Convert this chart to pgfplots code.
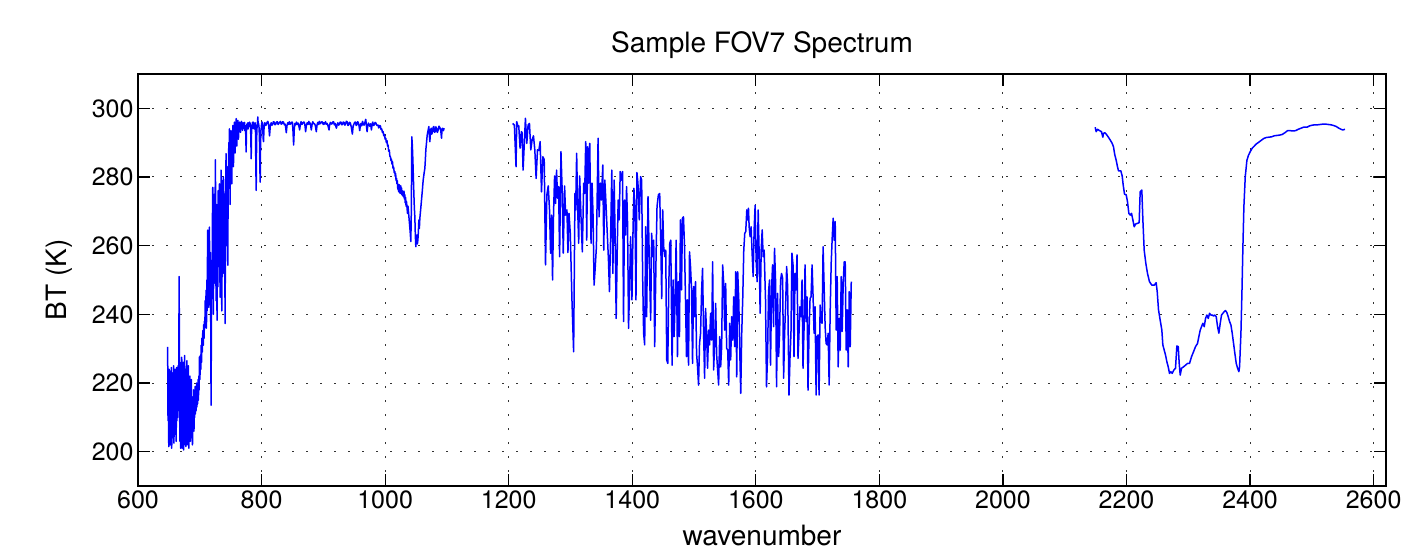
\documentclass[border=0pt]{standalone}
\usepackage{fontspec}
\setmainfont{TeX Gyre Heros}
\usepackage{pgfplots}
\pgfplotsset{compat=1.18}
\begin{document}
\begin{tikzpicture}
\useasboundingbox (-138pt,-68pt) rectangle (1264pt,486pt);
\begin{axis}[
  at={(0pt,0pt)}, anchor=south west,
  scale only axis, width=1248pt, height=412pt,
  xmin=600, xmax=2620, ymin=190, ymax=310,
  xtick={600,800,...,2600}, ytick={200,220,...,300},
  tick align=inside, major tick length=12pt,
  grid=major,
  major grid style={black!80, line width=1pt, dash pattern=on 2.4pt off 11.6pt},
  axis line style={black, line width=1.5pt},
  major tick style={black, line width=1.2pt},
  /pgf/number format/assume math mode=true,
  /pgf/number format/1000 sep={},
  tick label style={font=\fontsize{25}{30}\selectfont},
  xticklabel style={yshift=-1pt},
  yticklabel style={xshift=-1pt},
  title={Sample FOV7 Spectrum},
  xlabel={wavenumber},
  ylabel={BT (K)},
  every axis title/.style={at={(axis description cs:0.5,1)}, anchor=base, yshift=21pt, font=\fontsize{28}{33}\selectfont},
  every axis x label/.style={at={(axis description cs:0.5,0)}, anchor=base, yshift=-59pt, font=\fontsize{28}{33}\selectfont},
  every axis y label/.style={at={(axis description cs:-0.0569,0.5)}, anchor=base, rotate=90, font=\fontsize{28}{33}\selectfont},
]
% LW band
\addplot[blue, line width=1.5pt, line join=round] table {
x y
648.0 230.5
648.6 209.0
649.2 222.0
649.8 201.5
650.4 224.0
651.0 203.0
651.6 219.0
652.2 202.0
652.8 223.5
653.4 206.0
654.0 224.5
654.6 201.0
655.2 220.0
655.8 204.0
656.4 223.0
657.0 209.0
657.6 225.0
658.2 202.5
658.8 218.0
659.4 205.0
660.0 224.0
660.6 211.0
661.2 222.0
661.8 203.0
662.4 224.5
663.0 209.0
663.6 219.0
664.2 210.0
664.8 225.0
665.4 212.0
666.0 224.0
666.6 251.0
667.2 218.0
667.8 203.0
668.4 222.0
669.0 201.0
669.6 226.0
670.2 205.0
670.8 227.5
671.4 201.0
672.0 221.0
672.6 204.5
673.2 226.0
673.8 200.5
674.4 223.0
675.0 206.0
675.6 228.0
676.2 202.0
676.8 219.0
677.4 201.5
678.0 224.0
678.6 205.0
679.2 226.5
679.8 202.0
680.4 221.0
681.0 207.0
681.6 225.0
682.2 201.0
682.8 217.0
683.4 205.0
684.0 222.0
684.6 203.0
685.2 219.0
685.8 208.0
686.4 221.0
687.0 204.0
687.6 216.0
688.2 202.0
688.8 214.0
689.4 209.0
690.0 218.0
690.6 206.0
691.2 215.0
691.8 210.0
692.4 219.0
693.0 211.0
693.6 216.0
694.2 212.0
694.8 220.0
695.4 213.0
696.0 217.0
696.6 214.0
697.2 221.0
697.8 215.0
698.4 222.0
699.0 218.0
699.4 227.6
700.2 221.0
701.0 228.0
701.6 224.0
702.2 231.0
702.8 226.0
703.4 233.0
704.0 229.0
704.6 234.0
705.2 235.3
705.8 231.0
706.4 237.0
707.0 233.0
707.5 238.0
708.2 236.0
708.8 244.0
709.4 237.5
710.2 247.0
710.8 236.0
711.4 250.0
711.8 241.0
712.4 255.0
712.9 264.5
713.5 243.0
714.0 258.0
714.5 242.0
715.0 262.0
715.6 265.4
716.2 247.0
716.7 245.0
717.3 258.0
718.3 213.5
719.0 248.0
720.0 247.0
720.5 268.0
721.0 277.0
721.5 251.0
722.0 240.0
722.6 262.0
723.2 249.0
723.7 275.0
724.3 252.0
724.8 270.0
725.3 285.0
725.9 258.0
726.4 244.0
727.0 272.0
727.5 249.0
728.0 238.3
728.6 263.0
729.2 248.0
729.7 276.0
730.2 259.0
730.7 254.0
731.3 271.0
731.8 278.0
732.4 257.0
732.9 245.0
733.5 268.0
734.0 255.0
734.5 282.0
735.1 262.0
735.6 241.0
736.2 266.0
736.7 251.0
737.2 279.0
737.8 264.0
738.3 280.0
738.9 252.0
739.4 270.0
739.9 275.0
740.5 258.0
741.0 237.3
741.6 269.0
742.1 281.0
742.6 286.8
743.2 270.0
743.7 260.0
744.2 283.0
744.8 272.0
745.3 254.3
745.9 276.0
746.4 281.0
747.0 290.0
747.5 279.0
748.0 294.0
748.6 284.0
749.1 272.0
749.6 287.0
750.2 291.0
750.7 293.5
751.3 285.0
751.8 278.0
752.4 290.0
752.9 286.0
753.5 295.0
754.0 289.0
754.5 283.0
755.1 292.0
755.6 294.0
756.2 296.0
756.7 290.0
757.2 287.0
757.8 294.5
758.3 292.0
758.9 297.0
759.4 293.0
760.0 289.0
760.5 295.0
761.1 293.5
761.6 296.5
762.1 294.0
762.6 291.0
763.2 295.2
763.7 293.8
764.3 296.0
764.8 294.5
765.4 295.5
765.9 293.0
766.5 295.0
767.0 294.0
767.5 296.2
768.1 294.8
768.6 295.6
769.2 293.6
769.7 294.0
770.2 295.8
770.8 294.4
771.3 295.6
771.9 294.9
772.4 295.9
772.9 293.5
773.5 295.0
774.0 294.2
774.5 292.0
775.0 287.3
775.6 293.5
776.1 295.2
776.7 295.5
777.2 294.3
777.7 295.8
778.3 294.0
778.8 295.6
779.4 294.6
779.9 295.1
780.5 296.0
781.0 294.8
781.5 295.7
782.1 294.5
782.6 292.0
783.2 285.3
783.7 292.5
784.3 294.6
784.8 295.0
785.3 295.9
785.9 294.2
786.4 296.0
787.0 295.1
787.5 295.7
788.0 294.0
788.6 295.3
789.1 294.7
789.7 295.8
790.2 293.0
790.7 284.0
791.3 276.1
791.8 287.0
792.3 293.4
792.9 295.0
793.4 295.9
794.0 297.5
794.5 294.8
795.1 295.6
795.6 295.0
796.1 294.0
796.7 290.0
797.2 283.0
797.8 278.5
798.3 288.0
798.9 293.5
799.4 294.0
800.0 295.3
800.5 295.8
801.0 296.0
801.6 294.9
802.2 293.0
802.7 291.0
803.2 290.3
803.8 293.5
804.3 295.1
804.9 295.7
805.4 295.8
806.5 295.0
807.5 295.2
808.8 295.9
810.2 296.2
811.5 295.3
812.9 292.0
814.2 295.0
815.6 295.8
816.8 295.1
818.0 295.3
819.2 296.1
820.5 296.0
821.8 295.2
823.0 295.4
824.2 296.0
825.5 296.1
826.8 295.3
828.0 295.6
829.2 295.9
830.5 296.2
831.8 295.4
833.0 295.5
834.2 296.1
835.5 296.0
836.8 295.2
838.0 295.4
839.0 294.6
840.0 292.9
841.2 295.0
842.5 295.8
843.8 295.3
845.0 296.1
846.2 295.4
847.5 295.5
848.8 296.0
850.0 295.9
851.0 293.0
851.9 289.3
853.0 294.2
854.0 295.6
855.2 295.2
856.5 296.0
857.8 295.3
859.0 295.7
860.3 295.0
861.6 293.7
862.8 295.4
864.0 296.1
865.2 295.3
866.5 295.6
867.8 296.0
869.0 296.0
870.2 295.1
871.3 293.2
872.6 295.2
874.0 295.8
875.2 295.3
876.5 296.2
877.8 295.4
879.0 295.7
880.5 293.7
881.8 295.3
883.0 296.1
884.2 295.5
885.5 295.6
887.0 295.0
888.6 293.2
889.8 295.2
891.0 295.9
892.2 295.3
893.5 296.2
894.8 295.5
896.0 295.7
897.2 296.1
898.5 296.0
899.8 295.3
901.0 295.8
902.2 295.4
903.5 296.1
904.8 295.4
906.0 295.6
907.6 294.9
909.2 293.7
910.3 295.3
911.5 295.9
912.8 295.4
914.0 295.5
915.2 296.0
916.5 296.1
917.8 295.2
919.0 295.6
920.0 295.0
921.1 294.2
922.3 295.2
923.5 295.8
924.8 295.1
926.0 295.4
927.2 296.0
928.5 296.0
929.8 295.2
931.0 295.3
932.2 296.0
933.5 295.9
934.8 295.1
936.0 295.5
937.2 296.2
938.5 296.1
939.8 295.0
941.0 295.2
942.2 295.9
943.5 295.8
945.2 294.6
947.0 292.5
948.2 294.8
949.5 295.4
950.8 295.9
952.0 296.0
953.2 295.0
954.5 295.3
955.5 296.1
956.5 295.9
957.7 295.0
958.9 293.5
960.0 295.2
961.0 295.6
962.2 294.9
963.5 296.2
964.8 295.3
966.0 295.1
967.3 295.9
968.6 296.8
969.7 295.0
970.8 293.2
972.0 295.1
973.0 295.7
974.2 295.0
975.5 294.8
976.6 295.5
977.8 293.7
979.0 295.4
980.0 296.0
981.2 295.0
982.5 295.2
983.8 295.9
985.0 295.7
986.8 295.0
988.6 295.1
989.6 294.3
990.5 294.6
991.5 295.0
992.4 294.8
993.4 293.8
994.5 294.0
995.6 293.0
996.7 293.2
997.8 292.0
999.0 292.4
1000.0 291.0
1001.0 291.3
1002.0 290.0
1003.0 290.6
1004.0 289.0
1004.8 289.3
1005.8 287.5
1006.8 287.8
1007.7 286.0
1008.6 285.9
1009.4 284.8
1010.2 285.2
1011.0 283.8
1011.9 284.5
1012.8 282.5
1013.8 282.9
1014.8 281.2
1015.7 281.6
1016.4 280.2
1017.0 281.0
1017.7 279.0
1018.4 279.6
1019.1 278.0
1019.8 278.9
1020.5 276.5
1021.1 277.2
1021.8 275.8
1022.5 277.8
1023.2 275.5
1023.8 276.7
1024.5 275.2
1025.2 277.5
1025.9 275.8
1026.5 276.8
1027.2 274.8
1027.8 276.0
1028.5 274.5
1029.2 275.7
1029.8 274.2
1030.5 275.9
1031.2 273.6
1031.9 274.8
1032.5 272.5
1033.2 274.0
1033.9 271.5
1034.6 272.8
1035.4 271.2
1036.2 269.4
1037.0 271.5
1037.8 270.0
1038.6 268.2
1039.4 266.5
1040.5 264.2
1041.6 261.2
1042.4 270.0
1043.2 291.7
1044.1 289.0
1044.9 285.0
1045.7 280.0
1046.5 275.2
1047.3 271.0
1048.1 268.4
1048.9 263.0
1049.7 259.7
1050.5 262.0
1051.3 263.1
1052.2 260.5
1053.0 261.6
1053.8 264.0
1054.6 267.5
1055.4 265.0
1056.2 268.0
1057.5 270.5
1058.9 273.3
1060.2 276.0
1061.6 279.1
1063.0 281.0
1064.3 282.5
1065.1 285.0
1065.9 287.9
1067.0 290.0
1068.1 292.2
1069.5 293.5
1070.8 294.7
1071.6 292.0
1072.4 290.3
1073.5 293.5
1074.6 294.2
1075.6 292.5
1076.7 293.2
1077.8 294.5
1078.9 294.7
1080.0 293.0
1081.1 293.2
1082.2 294.6
1083.2 294.2
1084.5 293.0
1085.9 293.7
1087.2 294.8
1088.6 294.4
1090.0 293.6
1091.3 291.3
1092.1 294.0
1092.9 294.2
1094.2 293.5
1095.6 294.2
};
% MW band
\addplot[blue, line width=1.5pt, line join=round] table {
x y
1206.5 295.6
1209.2 295.1
1211.9 283.0
1213.0 296.1
1215.2 294.7
1216.3 294.9
1218.4 288.4
1220.6 293.2
1221.7 292.9
1223.3 282.0
1227.1 297.1
1229.3 289.8
1231.4 295.1
1233.6 295.6
1235.8 287.9
1237.9 290.8
1240.1 292.0
1242.3 287.9
1244.4 279.6
1246.6 287.9
1248.8 287.7
1250.9 290.3
1253.1 275.7
1255.3 285.9
1257.5 285.1
1259.6 254.4
1261.8 274.8
1264.0 277.4
1266.1 270.4
1267.8 257.8
1269.4 268.9
1271.0 250.0
1272.6 269.4
1274.3 280.3
1275.9 272.3
1277.5 282.0
1279.1 273.8
1280.8 277.2
1282.4 256.8
1284.6 287.4
1286.7 275.2
1288.3 257.8
1290.5 277.4
1292.1 268.9
1294.3 270.4
1295.9 258.0
1297.6 269.4
1299.7 263.6
1302.4 244.2
1305.1 229.1
1307.3 275.2
1308.4 270.4
1310.0 286.9
1311.7 270.4
1313.3 260.7
1314.9 280.3
1317.1 268.0
1319.2 258.2
1321.4 278.2
1323.0 275.2
1324.7 290.3
1326.3 261.6
1327.9 288.8
1329.5 278.2
1331.2 289.8
1333.3 260.7
1335.0 278.2
1336.6 268.4
1338.2 248.5
1339.8 252.9
1342.0 259.7
1344.7 291.3
1346.3 268.4
1348.5 278.2
1350.1 273.3
1352.3 283.5
1353.9 258.7
1355.6 279.1
1357.2 273.3
1359.3 264.6
1361.5 255.8
1363.1 246.6
1365.3 265.5
1366.9 282.0
1368.6 251.9
1370.7 279.1
1372.4 261.6
1374.0 238.8
1375.6 257.8
1377.2 273.3
1378.9 267.5
1380.5 281.6
1382.7 279.1
1384.3 281.6
1385.9 237.9
1387.5 273.3
1389.2 263.1
1390.8 277.2
1392.4 266.5
1394.0 235.9
1395.7 248.1
1397.3 262.6
1399.5 244.2
1401.1 262.6
1402.7 276.7
1404.3 270.9
1406.0 244.2
1407.6 281.3
1409.2 278.2
1411.4 267.5
1413.5 280.1
1415.2 279.1
1416.8 251.5
1418.4 234.5
1420.1 231.1
1421.7 265.5
1423.3 239.3
1425.5 274.3
1427.6 255.8
1429.8 238.3
1431.4 263.6
1433.1 256.8
1434.7 261.6
1436.3 230.6
1438.5 256.3
1440.1 271.4
1442.3 274.8
1444.4 275.2
1446.1 261.6
1447.7 244.6
1449.3 270.4
1450.9 259.7
1452.6 256.8
1454.2 258.7
1455.8 226.7
1457.5 225.7
1459.1 248.1
1460.7 260.7
1462.3 261.6
1464.5 225.2
1466.1 250.0
1467.7 233.5
1469.4 243.7
1471.0 261.6
1473.2 227.7
1474.8 249.5
1476.4 233.5
1478.0 267.5
1479.7 247.1
1481.3 268.0
1482.9 268.4
1484.6 259.7
1486.2 244.2
1487.8 227.7
1489.4 244.2
1491.1 225.2
1492.7 258.2
1494.3 253.9
1495.9 247.6
1497.6 225.7
1499.2 248.1
1500.8 239.3
1502.4 249.5
1504.1 228.6
1505.7 224.7
1507.3 219.4
1508.9 231.5
1510.6 234.5
1512.2 246.6
1513.8 253.4
1515.4 235.4
1517.1 221.4
1518.7 241.7
1520.3 234.5
1521.9 224.3
1523.6 235.4
1525.2 231.1
1526.8 240.3
1528.5 232.5
1530.1 255.3
1531.7 223.8
1533.3 231.1
1535.0 243.2
1536.6 228.2
1538.2 223.8
1539.8 219.4
1541.5 233.5
1543.1 224.7
1544.7 230.6
1546.3 254.4
1548.0 249.0
1549.6 235.4
1551.2 249.0
1552.8 230.1
1554.5 229.6
1556.1 219.4
1557.7 237.4
1559.3 226.7
1561.0 239.3
1562.6 232.5
1564.2 245.1
1565.8 230.6
1567.5 252.4
1569.1 221.8
1570.7 252.4
1572.4 244.2
1574.0 229.6
1575.6 217.0
1577.2 234.5
1578.9 245.1
1580.5 258.7
1582.1 263.6
1583.7 264.1
1585.4 270.4
1587.0 267.5
1588.1 270.9
1589.2 265.5
1590.8 262.6
1592.4 265.5
1594.0 257.8
1595.7 251.0
1597.3 264.8
1598.9 271.8
1600.5 255.8
1602.2 249.5
1603.8 270.4
1605.4 257.8
1607.0 240.3
1608.7 258.7
1610.3 264.6
1611.9 256.8
1613.5 258.7
1615.7 244.2
1617.3 218.9
1619.0 227.7
1620.6 246.6
1622.2 250.0
1623.8 225.2
1625.5 247.1
1627.1 254.4
1628.7 236.4
1630.3 259.2
1632.0 249.5
1633.6 218.9
1635.2 246.1
1636.9 227.7
1638.5 234.5
1640.1 250.0
1641.7 251.9
1643.4 250.5
1645.0 221.4
1646.6 234.5
1648.2 242.2
1649.9 253.9
1651.5 248.1
1653.7 216.5
1655.3 227.2
1656.9 234.5
1658.5 257.8
1660.2 254.4
1661.8 227.7
1663.4 251.9
1665.0 247.1
1666.7 257.3
1668.3 227.2
1669.9 234.5
1671.5 242.2
1673.2 239.3
1674.8 250.0
1676.4 224.3
1678.0 235.4
1679.7 254.4
1681.3 237.9
1682.9 245.1
1684.5 217.9
1686.2 235.4
1687.8 244.6
1689.4 245.1
1691.1 254.4
1692.7 245.1
1694.3 234.5
1695.9 242.2
1697.6 216.5
1699.2 233.5
1700.8 234.0
1702.4 216.5
1704.1 242.7
1705.7 237.9
1707.3 237.4
1708.9 259.7
1710.6 247.6
1712.2 236.4
1713.8 231.5
1715.4 231.1
1717.1 234.5
1718.7 219.4
1720.3 240.3
1722.0 254.9
1723.6 262.1
1725.2 268.0
1726.8 261.6
1728.5 267.0
1730.1 235.4
1731.7 251.0
1733.3 224.7
1735.0 238.8
1736.6 229.6
1738.2 251.0
1739.8 235.0
1741.5 249.5
1743.1 255.3
1744.7 255.3
1746.3 229.6
1748.0 241.3
1749.6 224.7
1751.2 246.6
1752.8 230.6
1754.5 249.5
};
% SW band
\addplot[blue, line width=1.5pt, line join=round] table {
x y
2149.3 294.5
2150.9 293.2
2153.0 293.9
2156.3 293.5
2159.5 293.2
2161.7 291.6
2162.8 292.7
2164.9 292.9
2167.1 292.5
2170.3 291.7
2173.5 290.8
2176.8 289.8
2178.9 288.8
2181.1 286.4
2183.3 284.9
2185.4 283.0
2187.0 281.8
2190.8 281.8
2193.0 280.3
2194.6 277.7
2196.8 275.0
2199.5 274.8
2201.6 272.8
2203.8 269.4
2206.0 268.9
2208.1 269.4
2210.3 267.5
2212.4 265.5
2214.6 266.3
2217.8 266.5
2220.5 266.7
2222.1 275.7
2224.8 276.2
2226.5 267.5
2228.6 258.7
2231.3 254.8
2234.0 251.9
2237.2 249.5
2241.0 248.5
2244.8 248.5
2248.0 249.2
2249.7 246.6
2251.8 241.3
2254.5 238.3
2257.2 235.4
2258.8 231.1
2261.0 229.6
2263.2 228.1
2265.3 226.2
2267.5 224.7
2269.6 222.8
2271.8 223.3
2273.9 222.8
2276.7 223.8
2279.3 224.3
2281.5 230.8
2283.7 230.6
2285.3 225.7
2286.9 222.3
2289.1 224.3
2292.3 224.7
2295.5 225.2
2298.8 225.7
2302.0 225.7
2305.3 227.7
2308.5 229.1
2311.7 230.6
2314.9 231.5
2317.1 233.5
2319.3 235.4
2321.4 236.4
2323.6 237.4
2325.8 236.4
2327.9 238.8
2330.1 239.8
2332.3 238.8
2334.4 240.3
2336.6 239.8
2338.7 239.8
2340.9 239.5
2343.0 239.8
2345.2 239.3
2347.4 236.4
2349.5 234.5
2351.7 237.4
2353.8 239.8
2356.0 240.3
2358.2 240.8
2360.3 241.1
2362.5 240.5
2364.6 239.3
2366.8 237.9
2369.0 236.9
2371.1 234.5
2373.3 231.5
2375.4 228.6
2377.6 225.7
2379.8 224.3
2381.9 223.3
2383.0 224.7
2385.2 234.5
2386.8 246.1
2388.4 259.7
2390.0 271.4
2392.2 280.1
2394.9 284.9
2397.6 286.4
2400.3 287.4
2403.5 288.4
2406.7 289.0
2410.0 289.6
2413.8 290.1
2417.5 290.6
2421.9 291.2
2426.2 291.5
2430.5 291.6
2434.8 291.7
2439.1 292.0
2443.4 292.1
2447.8 292.2
2452.1 292.4
2456.4 292.9
2460.7 293.5
2465.0 293.5
2469.4 293.4
2473.7 293.5
2478.0 293.9
2482.3 294.2
2486.6 294.5
2492.0 294.5
2496.4 294.9
2500.7 295.1
2505.0 295.2
2509.3 295.2
2513.6 295.3
2517.9 295.4
2522.3 295.4
2526.6 295.3
2530.9 295.2
2535.2 295.0
2539.5 294.7
2543.9 294.2
2547.1 293.9
2550.3 293.7
2553.6 293.9
};
\end{axis}
\end{tikzpicture}
\end{document}
